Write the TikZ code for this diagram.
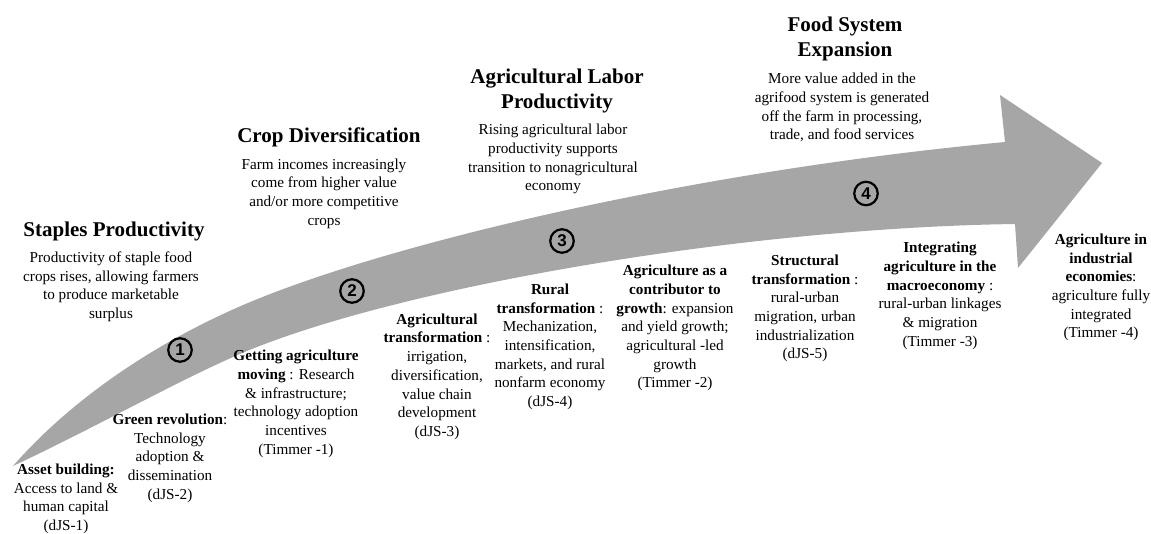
\documentclass[tikz,border=0pt]{standalone}
\usepackage{fontspec}
\setmainfont{Liberation Serif}
\newfontfamily\numfont{Liberation Sans}
\definecolor{bandgray}{RGB}{166,166,166}
\begin{document}
\begin{tikzpicture}[x=1pt,y=-1pt,
  head/.style={font=\fontsize{21}{24.8}\selectfont\bfseries, align=center, anchor=north, inner sep=0pt},
  desc/.style={font=\fontsize{15.2}{18.7}\selectfont, align=center, anchor=north, inner sep=0pt},
  stage/.style={font=\fontsize{15.2}{18.7}\selectfont, align=center, anchor=north, inner sep=0pt},
  marker/.style={circle, draw=black, line width=2.2pt, minimum size=23.5pt, inner sep=0pt,
    font=\numfont\bfseries\fontsize{17}{17}\selectfont}]
\useasboundingbox (0,0) rectangle (1151,533);

% the curved development arrow
\fill[bandgray]
  (13,466) .. controls (83,386) and (180,330) .. (260,298)
  .. controls (410,238) and (705,170) .. (1005,142)
  -- (1000,95) -- (1102,163) -- (1018,268) -- (1015,224)
  .. controls (735,228) and (383,290) .. (233,357)
  .. controls (170,385) and (90,430) .. (13,466)
  -- cycle;

% stage markers on the arrow
\node[marker] (m1) at (180,350) {1};
\node[marker] (m2) at (352,291) {2};
\node[marker] (m3) at (562,241) {3};
\node[marker] (m4) at (866,193.5) {4};

% phase headings and descriptions above the arrow
\node[head] (h1) at (114,222) {Staples Productivity};
\node[desc] (d1) at (111,251.5) {Productivity of staple food\\crops rises, allowing farmers\\to produce marketable\\surplus};

\node[head] (h2) at (329,127.6) {Crop Diversification};
\node[desc] (d2) at (324,158.5) {Farm incomes increasingly\\come from higher value\\and/or more competitive\\crops};

\node[head] (h3) at (557,69) {Agricultural Labor\\Productivity};
\node[desc] (d3) at (553,124) {Rising agricultural labor\\productivity supports\\transition to nonagricultural\\economy};

\node[head] (h4) at (845,17) {Food System\\Expansion};
\node[desc] (d4) at (842,73) {More value added in the\\agrifood system is generated\\off the farm in processing,\\trade, and food services};

% stages below the arrow
\node[stage] (s1) at (66,463.7) {\textbf{Asset building:}\\Access to land \&\\human capital\\(dJS-1)};
\node[stage] (s2) at (170,413.8) {\textbf{Green revolution}:\\Technology\\adoption \&\\dissemination\\(dJS-2)};
\node[stage] (s3) at (296,350) {\textbf{Getting agriculture}\\\textbf{moving} : Research\\\& infrastructure;\\technology adoption\\incentives\\(Timmer -1)};
\node[stage] (s4) at (437,313.5) {\textbf{Agricultural}\\\textbf{transformation} :\\irrigation,\\diversification,\\value chain\\development\\(dJS-3)};
\node[stage] (s5) at (550,283.6) {\textbf{Rural}\\\textbf{transformation} :\\Mechanization,\\intensification,\\markets, and rural\\nonfarm economy\\(dJS-4)};
\node[stage] (s6) at (675,265) {\textbf{Agriculture as a}\\\textbf{contributor to}\\\textbf{growth}: expansion\\and yield growth;\\agricultural -led\\growth\\(Timmer -2)};
\node[stage] (s7) at (805,254.7) {\textbf{Structural}\\\textbf{transformation} :\\rural-urban\\migration, urban\\industrialization\\(dJS-5)};
\node[stage] (s8) at (940,242) {\textbf{Integrating}\\\textbf{agriculture in the}\\\textbf{macroeconomy} :\\rural-urban linkages\\\& migration\\(Timmer -3)};
\node[stage] (s9) at (1101,233.6) {\textbf{Agriculture in}\\\textbf{industrial}\\\textbf{economies}:\\agriculture fully\\integrated\\(Timmer -4)};
\end{tikzpicture}
\end{document}
